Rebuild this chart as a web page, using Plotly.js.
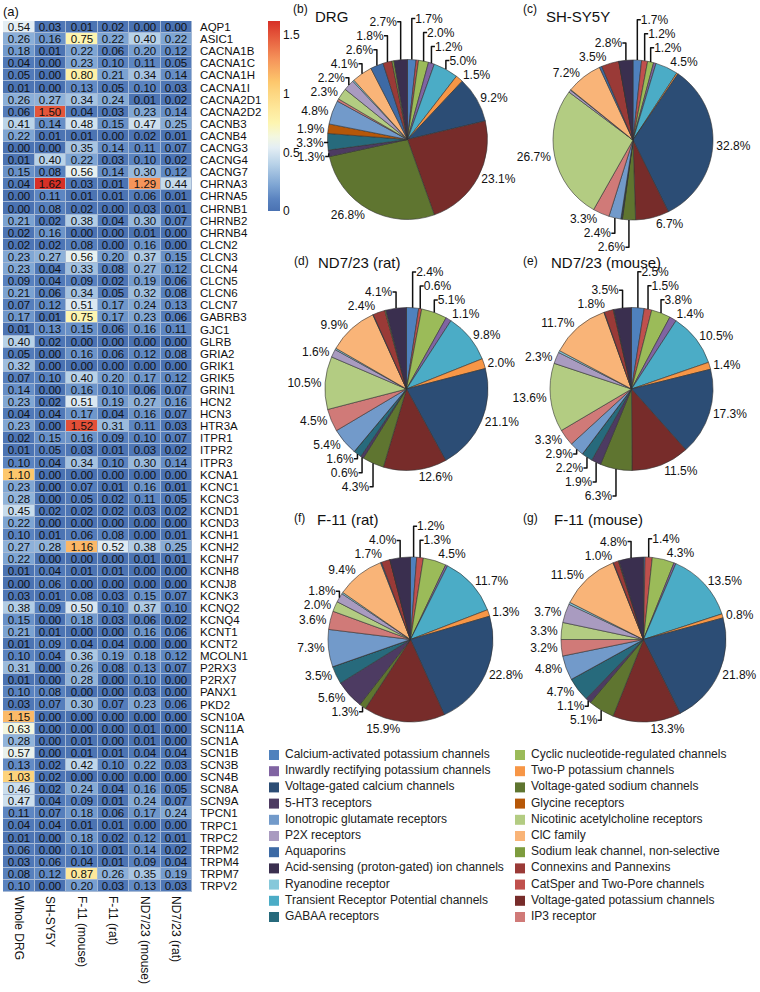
<!DOCTYPE html>
<html>
<head>
<meta charset="utf-8">
<script src="https://cdn.plot.ly/plotly-3.0.1.min.js"></script>
<style>html,body{margin:0;padding:0;background:#fff;}#chart{width:760px;height:992px;}</style>
</head>
<body>
<div id="chart"></div>
<script>
// ---------- Heatmap data (a) ----------
const genes = ['AQP1','ASIC1','CACNA1B','CACNA1C','CACNA1H','CACNA1I','CACNA2D1','CACNA2D2','CACNB3','CACNB4',
 'CACNG3','CACNG4','CACNG7','CHRNA3','CHRNA5','CHRNB1','CHRNB2','CHRNB4','CLCN2','CLCN3',
 'CLCN4','CLCN5','CLCN6','CLCN7','GABRB3','GJC1','GLRB','GRIA2','GRIK1','GRIK5',
 'GRIN1','HCN2','HCN3','HTR3A','ITPR1','ITPR2','ITPR3','KCNA1','KCNC1','KCNC3',
 'KCND1','KCND3','KCNH1','KCNH2','KCNH7','KCNH8','KCNJ8','KCNK3','KCNQ2','KCNQ4',
 'KCNT1','KCNT2','MCOLN1','P2RX3','P2RX7','PANX1','PKD2','SCN10A','SCN11A','SCN1A',
 'SCN1B','SCN3B','SCN4B','SCN8A','SCN9A','TPCN1','TRPC1','TRPC2','TRPM2','TRPM4',
 'TRPM7','TRPV2'];
const cellLines = ['Whole DRG','SH-SY5Y','F-11 (mouse)','F-11 (rat)','ND7/23 (mouse)','ND7/23 (rat)'];

const wholeDRG = [0.54,0.26,0.18,0.04,0.05,0.01,0.26,0.06,0.41,0.22,
 0.00,0.01,0.15,0.04,0.00,0.00,0.21,0.02,0.02,0.23,
 0.23,0.09,0.21,0.07,0.17,0.01,0.40,0.05,0.32,0.07,
 0.14,0.23,0.04,0.23,0.02,0.01,0.10,1.10,0.23,0.28,
 0.45,0.22,0.10,0.27,0.22,0.01,0.00,0.03,0.38,0.15,
 0.21,0.01,0.10,0.31,0.01,0.10,0.03,1.15,0.63,0.28,
 0.57,0.13,1.03,0.46,0.47,0.11,0.04,0.01,0.06,0.03,
 0.08,0.10];
const shsy5y = [0.03,0.16,0.01,0.00,0.00,0.00,0.27,1.50,0.14,0.01,
 0.00,0.40,0.08,1.62,0.11,0.08,0.02,0.16,0.02,0.27,
 0.04,0.04,0.06,0.12,0.01,0.13,0.02,0.00,0.00,0.10,
 0.00,0.02,0.04,0.00,0.15,0.05,0.04,0.00,0.00,0.00,
 0.02,0.00,0.01,0.28,0.00,0.04,0.06,0.01,0.09,0.00,
 0.01,0.09,0.04,0.00,0.00,0.08,0.07,0.00,0.00,0.00,
 0.00,0.02,0.02,0.02,0.04,0.07,0.04,0.00,0.00,0.06,
 0.12,0.00];
const f11Mouse = [0.01,0.75,0.22,0.23,0.80,0.13,0.34,0.04,0.48,0.01,
 0.35,0.22,0.56,0.03,0.01,0.02,0.38,0.00,0.08,0.56,
 0.33,0.09,0.34,0.51,0.75,0.15,0.00,0.16,0.00,0.40,
 0.16,0.51,0.17,1.52,0.16,0.03,0.34,0.00,0.07,0.05,
 0.02,0.00,0.06,1.16,0.00,0.01,0.00,0.08,0.50,0.18,
 0.00,0.04,0.36,0.26,0.28,0.00,0.30,0.00,0.00,0.01,
 0.01,0.42,0.00,0.24,0.09,0.18,0.01,0.18,0.10,0.04,
 0.87,0.20];
const f11Rat = [0.02,0.22,0.06,0.10,0.21,0.05,0.24,0.03,0.15,0.00,
 0.14,0.03,0.14,0.01,0.01,0.00,0.04,0.00,0.00,0.20,
 0.08,0.02,0.05,0.17,0.17,0.06,0.00,0.06,0.00,0.20,
 0.10,0.19,0.04,0.31,0.09,0.01,0.10,0.00,0.01,0.02,
 0.02,0.00,0.08,0.52,0.00,0.01,0.00,0.03,0.10,0.03,
 0.00,0.04,0.19,0.08,0.00,0.00,0.07,0.00,0.00,0.00,
 0.01,0.10,0.00,0.04,0.01,0.06,0.01,0.02,0.01,0.01,
 0.26,0.03];
const nd723Mouse = [0.00,0.40,0.20,0.11,0.34,0.10,0.01,0.23,0.47,0.02,
 0.11,0.10,0.30,1.29,0.06,0.03,0.30,0.01,0.16,0.37,
 0.27,0.19,0.32,0.24,0.23,0.16,0.00,0.12,0.00,0.17,
 0.06,0.27,0.16,0.11,0.10,0.03,0.30,0.00,0.16,0.11,
 0.03,0.00,0.00,0.38,0.01,0.00,0.00,0.15,0.37,0.06,
 0.16,0.00,0.18,0.13,0.10,0.03,0.23,0.00,0.01,0.01,
 0.04,0.22,0.00,0.16,0.24,0.17,0.00,0.12,0.14,0.09,
 0.35,0.13];
const nd723Rat = [0.00,0.22,0.12,0.05,0.14,0.03,0.02,0.14,0.25,0.01,
 0.07,0.02,0.12,0.44,0.01,0.01,0.07,0.00,0.00,0.15,
 0.12,0.06,0.08,0.13,0.06,0.11,0.00,0.08,0.00,0.12,
 0.07,0.16,0.07,0.03,0.07,0.02,0.14,0.00,0.01,0.05,
 0.02,0.00,0.01,0.25,0.01,0.00,0.00,0.07,0.10,0.02,
 0.06,0.00,0.12,0.07,0.00,0.00,0.06,0.00,0.00,0.00,
 0.04,0.03,0.00,0.05,0.07,0.24,0.00,0.01,0.02,0.04,
 0.19,0.03];
const colorbarTicks = [0, 0.5, 1, 1.5];

// ---------- Pie data (b)-(g): % of channel expression per family ----------
const families = ['Calcium-activated potassium channels','CatSper and Two-Pore channels','Cyclic nucleotide-regulated channels',
 'Inwardly rectifying potassium channels','Transient Receptor Potential channels','Two-P potassium channels',
 'Voltage-gated calcium channels','Voltage-gated potassium channels','Voltage-gated sodium channels',
 '5-HT3 receptors','GABAA receptors','Glycine receptors','Ionotropic glutamate receptors','IP3 receptor',
 'Nicotinic acetylcholine receptors','P2X receptors','Ryanodine receptor','ClC family','Aquaporins',
 'Connexins and Pannexins','Sodium leak channel, non-selective','Acid-sensing (proton-gated) ion channels'];
const familyColors = ['#4f81bd','#c0504d','#9bbb59','#8064a2','#4bacc6','#f79646','#2c4d75','#772c2a','#5f7530',
 '#4d3b62','#276a7c','#b65708','#729aca','#d07a78','#b3cc82','#a99bc0','#86c8da','#f9b478','#3d6aa5',
 '#9a3a37','#7d9c3e','#3a2f4f'];
const drgPct        = [1.7,0.5,2.0,1.2,5.0,1.5,9.2,23.1,26.8,1.3,3.3,1.9,4.8,0.5,2.3,2.2,0.3,4.1,2.6,1.8,0.4,2.7];
const shsy5yPct     = [1.7,1.2,1.2,0.5,4.5,0.3,32.8,6.7,2.6,0.1,0.2,0.0,2.4,3.3,26.7,0.5,0.1,7.2,0.5,3.5,0.0,2.8];
const nd723RatPct   = [2.4,0.6,5.1,1.1,9.8,2.0,21.1,12.6,4.3,0.6,1.6,0.0,5.4,4.5,10.5,1.6,0.3,9.9,0.1,2.4,0.2,4.1];
const nd723MousePct = [2.5,1.5,3.8,1.4,10.5,1.4,17.3,11.5,6.3,1.9,2.2,0.0,2.9,3.3,13.6,2.3,0.4,11.7,0.1,1.8,0.1,3.5];
const f11RatPct     = [1.2,1.3,4.5,0.4,11.7,1.3,22.8,15.9,1.3,5.6,3.5,0.0,7.3,3.6,2.0,1.8,0.3,9.4,0.2,1.7,0.0,4.0];
const f11MousePct   = [0.3,1.4,4.3,0.4,13.5,0.8,21.8,13.3,5.1,1.1,4.7,0.0,4.8,3.2,3.3,3.7,0.4,11.5,0.1,1.0,0.1,4.8];

const legendLeft = ['Calcium-activated potassium channels','Inwardly rectifying potassium channels','Voltage-gated calcium channels',
 '5-HT3 receptors','Ionotropic glutamate receptors','P2X receptors','Aquaporins','Acid-sensing (proton-gated) ion channels',
 'Ryanodine receptor','Transient Receptor Potential channels','GABAA receptors'];
const legendRight = ['Cyclic nucleotide-regulated channels','Two-P potassium channels','Voltage-gated sodium channels',
 'Glycine receptors','Nicotinic acetylcholine receptors','ClC family','Sodium leak channel, non-selective',
 'Connexins and Pannexins','CatSper and Two-Pore channels','Voltage-gated potassium channels','IP3 receptor'];

// ---------- build ----------
const W = 760, H = 992;
const FONT = 'Liberation Sans, Arial, Helvetica, sans-serif';
const px = v => v / W;
const py = v => 1 - v / H;

const cols = [wholeDRG, shsy5y, f11Mouse, f11Rat, nd723Mouse, nd723Rat];
const z = genes.map((g, i) => cols.map(c => c[i]));

const traces = [];
traces.push({
  type: 'heatmap', x: cellLines, y: genes, z: z, xaxis: 'x', yaxis: 'y',
  zmin: 0, zmax: 1.62, xgap: 1, ygap: 1,
  colorscale: [[0,'#4a72b2'],[0.062,'#5a83c0'],[0.136,'#7ea5d3'],[0.247,'#b8d2e8'],[0.333,'#e4eef4'],
    [0.39,'#f3f7e0'],[0.463,'#fdf5b0'],[0.537,'#fee89b'],[0.636,'#fdd37c'],[0.68,'#fdc76c'],
    [0.8,'#f5935a'],[0.926,'#e4553a'],[1,'#d73027']],
  texttemplate: '%{z:.2f}', textfont: {family: FONT, size: 11.5, color: '#111'},
  hoverinfo: 'skip',
  colorbar: {x: px(268), xanchor: 'left', y: py(21), yanchor: 'top', len: 190, lenmode: 'pixels',
    thickness: 12, thicknessmode: 'pixels', outlinewidth: 0, xpad: 0, ypad: 0,
    tickvals: colorbarTicks, ticktext: colorbarTicks.map(String), ticks: '',
    tickfont: {family: FONT, size: 12, color: '#111'}}
});

const pies = [
  {vals: drgPct,        cx: 407.5, cy: 139.5, r: 80},
  {vals: shsy5yPct,     cx: 633,   cy: 140,   r: 80},
  {vals: nd723RatPct,   cx: 406.5, cy: 389,   r: 81.5},
  {vals: nd723MousePct, cx: 631.5, cy: 389,   r: 81.5},
  {vals: f11RatPct,     cx: 410.5, cy: 639.5, r: 82.5},
  {vals: f11MousePct,   cx: 643.5, cy: 639.5, r: 82.5}
];
pies.forEach(p => {
  traces.push({
    type: 'pie', labels: families, values: p.vals, sort: false, direction: 'clockwise', rotation: 0,
    marker: {colors: familyColors, line: {color: '#333', width: 0.6}},
    text: p.vals.map(v => v >= 0.6 ? v.toFixed(1) + '%' : ''),
    textinfo: 'text', textposition: 'outside', automargin: false,
    outsidetextfont: {family: FONT, size: 12, color: '#111'},
    showlegend: false, hoverinfo: 'label+value',
    domain: {x: [px(p.cx - p.r), px(p.cx + p.r)], y: [py(p.cy + p.r), py(p.cy - p.r)]}
  });
});

// legend built as markers + text on a hidden axis
const colorOf = name => familyColors[families.indexOf(name)];
[[legendLeft, 0], [legendRight, 1]].forEach(([names, col]) => {
  traces.push({type: 'scatter', mode: 'markers', xaxis: 'x2', yaxis: 'y2',
    x: names.map(() => col), y: names.map((n, i) => i),
    marker: {symbol: 'square', size: 10, color: names.map(colorOf), line: {width: 0}},
    showlegend: false, hoverinfo: 'skip', cliponaxis: false});
  traces.push({type: 'scatter', mode: 'markers+text', xaxis: 'x2', yaxis: 'y2',
    x: names.map(() => col), y: names.map((n, i) => i), text: names,
    textposition: 'middle right', textfont: {family: FONT, size: 12, color: '#222'},
    marker: {size: 16, color: 'rgba(0,0,0,0)'},
    showlegend: false, hoverinfo: 'skip', cliponaxis: false});
});

const ann = (text, x, y, size) => ({text, x: px(x), y: py(y), xref: 'paper', yref: 'paper',
  xanchor: 'left', yanchor: 'top', showarrow: false, font: {family: FONT, size, color: '#111'}});

const layout = {
  width: W, height: H, margin: {l: 0, r: 0, t: 0, b: 0},
  paper_bgcolor: '#fff', plot_bgcolor: 'rgba(0,0,0,0)', showlegend: false,
  font: {family: FONT, size: 12, color: '#111'},
  xaxis: {domain: [px(3), px(192)], anchor: 'y', tickangle: 90, ticks: '', showgrid: false, zeroline: false,
    showline: false, tickfont: {family: FONT, size: 12, color: '#111'}, ticklabelstandoff: 3, fixedrange: true},
  yaxis: {domain: [py(892), py(21)], anchor: 'x', side: 'right', autorange: 'reversed', ticks: '',
    tickmode: 'array', tickvals: genes, ticktext: genes,
    showgrid: false, zeroline: false, showline: false, tickfont: {family: FONT, size: 11.5, color: '#111'},
    ticklabelstandoff: 7, fixedrange: true},
  xaxis2: {domain: [px(274), px(520)], anchor: 'y2', range: [0, 1], visible: false, fixedrange: true},
  yaxis2: {domain: [py(917), py(755)], anchor: 'x2', range: [10, 0], visible: false, fixedrange: true},
  shapes: [{type: 'rect', xref: 'x domain', yref: 'y domain', x0: 0, x1: 1, y0: 0, y1: 1,
    fillcolor: '#a7bad5', line: {width: 0}, layer: 'below'}],
  annotations: [
    ann('(a)', 1, 2, 13),
    ann('(b)', 291, 0, 12), ann('DRG', 313, 6, 15),
    ann('(c)', 521, 0, 12), ann('SH-SY5Y', 544, 6, 15),
    ann('(d)', 292, 252, 12), ann('ND7/23 (rat)', 316, 252, 15),
    ann('(e)', 521, 252, 12), ann('ND7/23 (mouse)', 549, 252, 15),
    ann('(f)', 292, 509, 12), ann('F-11 (rat)', 315, 509, 15),
    ann('(g)', 521, 509, 12), ann('F-11 (mouse)', 552, 509, 15)
  ]
};

Plotly.newPlot('chart', traces, layout, {staticPlot: true, displayModeBar: false});
</script>
</body>
</html>
